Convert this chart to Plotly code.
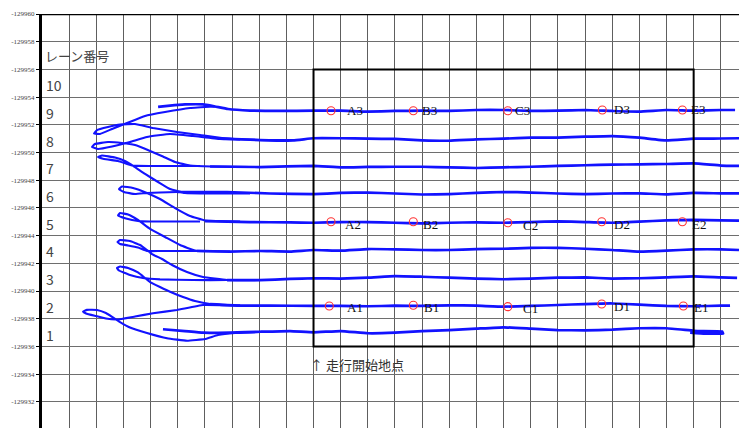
import plotly.graph_objects as go

# ---- axes -------------------------------------------------------------
y_ticks = [-129960, -129958, -129956, -129954, -129952, -129950, -129948,
           -129946, -129944, -129942, -129940, -129938, -129936, -129934,
           -129932]
y_tick_text = ["-129960", "-129958", "-129956", "-129954", "-129952",
               "-129950", "-129948", "-129946", "-129944", "-129942",
               "-129940", "-129938", "-129936", "-129934", "-129932"]

# ---- lane numbers -----------------------------------------------------
lane_numbers = ["1", "2", "3", "4", "5", "6", "7", "8", "9", "10"]
lane_centers = [-129937, -129939, -129941, -129943, -129945, -129947,
                -129949, -129951, -129953, -129955]

# ---- measured vehicle tracks: straight runs along each lane ------------
lane9_x = [8.55, 9.43, 10.53, 11.86, 12.74, 13.70, 15.32, 17.53, 20, 22, 24, 26, 28, 30,
           32, 34, 36, 38, 40, 42, 44, 46, 48, 50, 51.05]
lane9_y = [-129953.29, -129953.39, -129953.47, -129953.47, -129953.32, -129953.14,
           -129953.03, -129953.00, -129953.02, -129953.02, -129952.95, -129953.00,
           -129953.02, -129953.00, -129953.07, -129953.07, -129953.00, -129953.02,
           -129953.07, -129953.00, -129952.95, -129953.07, -129953.02, -129953.07,
           -129953.07]

lane8_x = [13.11, 16.06, 18.49, 20, 22, 24, 26, 28, 30, 32, 34, 36, 38, 40, 42, 44, 46,
           48, 50, 51.34]
lane8_y = [-129951.01, -129950.90, -129950.87, -129951.03, -129951.03, -129951.00,
           -129950.98, -129950.88, -129950.85, -129950.95, -129951.00, -129951.07,
           -129951.07, -129951.14, -129951.19, -129951.07, -129950.87, -129951.00,
           -129951.01, -129951.03]

lane7_x = [12.38, 16.06, 20, 22, 24, 26, 28, 30, 32, 34, 36, 38, 40, 42, 44, 46, 48, 50,
           51.34]
lane7_y = [-129948.99, -129948.95, -129949.03, -129948.93, -129948.96, -129948.97,
           -129948.97, -129948.93, -129948.88, -129948.93, -129948.97, -129949.03,
           -129949.08, -129949.12, -129949.15, -129949.17, -129949.21, -129949.06,
           -129949.03]

lane6_x = [9.94, 13.63, 16.80, 20, 22, 24, 26, 28, 30, 32, 34, 36, 38, 40, 42, 44, 46,
           48, 50, 51.34]
lane6_y = [-129947.15, -129947.15, -129947.04, -129947.00, -129947.08, -129947.11,
           -129947.04, -129946.97, -129947.00, -129947.08, -129947.15, -129947.11,
           -129947.04, -129947.00, -129947.04, -129947.05, -129946.98, -129947.08,
           -129947.05, -129947.05]

lane5_x = [12.01, 15.32, 18.27, 20, 22, 24, 26, 28, 30, 32, 34, 36, 38, 40, 42, 44, 46,
           48, 50, 51.34]
lane5_y = [-129945.05, -129944.98, -129944.95, -129944.93, -129944.98, -129944.98,
           -129944.93, -129944.89, -129944.93, -129944.96, -129944.93, -129944.98,
           -129945.03, -129944.98, -129944.93, -129945.01, -129945.10, -129945.14,
           -129945.10, -129945.08]

lane4_x = [11.42, 13.85, 16.06, 18.27, 20, 22, 24, 26, 28, 30, 32, 34, 36, 38, 40, 42,
           44, 46, 48, 50, 51.34]
lane4_y = [-129942.89, -129942.85, -129942.89, -129942.85, -129942.96, -129942.91,
           -129943.03, -129943.01, -129942.96, -129942.96, -129943.03, -129943.05,
           -129943.12, -129943.12, -129943.05, -129942.96, -129942.84, -129942.91,
           -129943.01, -129943.01, -129942.96]

lane3_x = [13.63, 16.06, 18.27, 20, 22, 24, 26, 28, 30, 32, 34, 36, 38, 40, 42, 44, 46,
           48, 50, 51.20]
lane3_y = [-129940.79, -129940.79, -129940.87, -129940.92, -129940.90, -129940.96,
           -129941.08, -129941.03, -129940.96, -129940.90, -129940.85, -129940.90,
           -129940.96, -129940.98, -129940.90, -129940.92, -129940.98, -129941.05,
           -129940.98, -129940.95]

lane2_x = [12.38, 14.59, 16.80, 20, 22, 24, 26, 28, 30, 32, 34, 36, 38, 40, 42, 44, 46,
           48, 50, 50.68]
lane2_y = [-129939.06, -129938.95, -129938.95, -129938.92, -129938.92, -129938.90,
           -129938.94, -129938.92, -129938.97, -129938.94, -129938.87, -129938.92,
           -129938.99, -129939.06, -129939.10, -129939.02, -129938.92, -129938.90,
           -129938.94, -129938.95]

lane1_x = [8.91, 10.53, 11.86, 13.85, 16.06, 18.27, 20, 22, 24, 26, 28, 30, 32, 34, 36,
           38, 40, 42, 44, 46, 48, 48.47, 50.09, 50.17, 48.84, 47.74]
lane1_y = [-129937.24, -129937.11, -129936.99, -129937.00, -129937.06, -129937.11,
           -129937.02, -129937.11, -129936.95, -129936.99, -129937.11, -129937.18,
           -129937.28, -129937.38, -129937.28, -129937.18, -129937.16, -129937.21,
           -129937.31, -129937.31, -129937.13, -129937.11, -129937.08, -129936.93,
           -129936.93, -129937.00]

# ---- turning loops at the start of the runs ---------------------------
loop1_x = [12.74, 10.90, 9.06, 7.59, 6.26, 5.16, 4.27, 3.83, 4.05, 4.86, 5.75, 6.85,
           8.18, 9.94, 11.64, 13.26, 16.06, 19.01]
loop1_y = [-129953.32, -129953.21, -129952.92, -129952.64, -129952.13, -129951.70,
           -129951.34, -129951.37, -129951.62, -129951.84, -129952.02, -129952.06,
           -129951.77, -129951.48, -129951.26, -129951.05, -129950.90, -129950.90]

loop2_x = [14.59, 13.11, 11.12, 9.43, 7.73, 6.48, 5.16, 4.13, 3.68, 3.90, 4.86, 5.89,
           6.85, 7.96, 8.91, 9.80, 10.90, 12.52, 15.32]
loop2_y = [-129950.94, -129950.97, -129951.19, -129951.34, -129951.12, -129950.76,
           -129950.43, -129950.25, -129950.40, -129950.61, -129950.76, -129950.69,
           -129950.54, -129950.11, -129949.71, -129949.31, -129949.06, -129948.99,
           -129948.95]

loop3_x = [11.64, 9.94, 7.96, 6.63, 5.60, 4.57, 4.13, 4.42, 5.38, 6.11, 6.85, 7.59,
           8.55, 9.43, 10.53, 12.38, 15.32]
loop3_y = [-129949.03, -129949.03, -129949.03, -129949.06, -129949.39, -129949.53,
           -129949.68, -129949.78, -129949.64, -129949.39, -129948.95, -129948.45,
           -129947.87, -129947.36, -129947.08, -129947.04, -129947.04]

loop4_x = [11.64, 9.94, 8.69, 7.73, 6.85, 6.04, 5.67, 5.89, 6.70, 7.73, 8.69, 9.80,
           10.90, 12.01, 14.59]
loop4_y = [-129947.15, -129947.15, -129947.11, -129947.08, -129947.00, -129947.15,
           -129947.36, -129947.55, -129947.44, -129947.08, -129946.64, -129945.99,
           -129945.42, -129945.09, -129945.02]

loop5_x = [11.64, 9.43, 7.96, 7.07, 6.19, 5.60, 5.75, 6.34, 7.07, 7.96, 9.06, 10.17,
           11.27, 12.74]
loop5_y = [-129945.02, -129945.02, -129945.02, -129945.05, -129945.23, -129945.45,
           -129945.63, -129945.52, -129945.13, -129944.48, -129943.90, -129943.32,
           -129942.92, -129942.89]

loop6_x = [13.85, 11.42, 9.80, 8.69, 7.73, 7.07, 6.34, 5.75, 5.56, 5.75, 6.48, 7.22,
           7.73, 8.10, 8.84, 9.58, 10.68, 11.86, 13.63, 16.06]
loop6_y = [-129942.85, -129942.89, -129942.89, -129942.89, -129942.89, -129943.14,
           -129943.29, -129943.39, -129943.54, -129943.68, -129943.61, -129943.32,
           -129942.96, -129942.67, -129942.31, -129941.88, -129941.37, -129941.01,
           -129940.79, -129940.79]

loop7_x = [16.06, 13.63, 11.12, 8.69, 7.44, 6.48, 5.67, 5.52, 5.75, 6.34, 7.07, 7.59,
           7.96, 8.69, 9.43, 10.39, 11.27, 12.38, 14.59]
loop7_y = [-129940.79, -129940.79, -129940.79, -129940.84, -129940.94, -129941.16,
           -129941.48, -129941.66, -129941.77, -129941.66, -129941.34, -129940.94,
           -129940.65, -129940.29, -129939.95, -129939.57, -129939.28, -129939.06,
           -129938.95]

loop8_x = [14.59, 11.86, 9.94, 8.18, 6.85, 5.52, 4.71, 3.98, 3.24, 3.02, 3.31, 4.05,
           4.71, 5.23, 5.75, 6.48, 7.73, 9.21, 10.68, 12.01, 12.96, 14.22, 16.06]
loop8_y = [-129938.95, -129938.99, -129938.63, -129938.39, -129938.16, -129937.94,
           -129938.01, -129938.19, -129938.38, -129938.52, -129938.64, -129938.63,
           -129938.41, -129938.09, -129937.76, -129937.37, -129936.97, -129936.59,
           -129936.41, -129936.53, -129936.82, -129936.97, -129937.04]

# ---- survey points ----------------------------------------------------
point_names = ["A3", "B3", "C3", "D3", "E3",
               "A2", "B2", "C2", "D2", "E2",
               "A1", "B1", "C1", "D1", "E1"]
point_x = [21.29, 27.35, 34.31, 41.27, 47.17,
           21.29, 27.35, 34.31, 41.23, 47.17,
           21.16, 27.35, 34.31, 41.23, 47.24]
point_y = [-129953.02, -129953.02, -129953.02, -129953.07, -129953.07,
           -129945.00, -129945.00, -129944.93, -129945.00, -129945.00,
           -129938.92, -129938.97, -129938.87, -129939.06, -129938.92]

# label offsets (px) of the point names
label_dx = [14, 7, 5, 10, 7,
            12, 8, 13, 10, 8,
            16, 9, 13, 10, 9]
label_dy = [0, 0, 0, 0, 0,
            -3, -3, -3, -3, -3,
            -2, -2, -2, -2, -2]

# measurement area
area_x = [20, 48]
area_y = [-129956, -129936]

TRACK = "rgb(18,18,255)"

lane_tracks = [
    (lane9_x, lane9_y), (lane8_x, lane8_y), (lane7_x, lane7_y),
    (lane6_x, lane6_y), (lane5_x, lane5_y), (lane4_x, lane4_y),
    (lane3_x, lane3_y), (lane2_x, lane2_y), (lane1_x, lane1_y),
]
loop_tracks = [
    (loop1_x, loop1_y), (loop2_x, loop2_y), (loop3_x, loop3_y),
    (loop4_x, loop4_y), (loop5_x, loop5_y), (loop6_x, loop6_y),
    (loop7_x, loop7_y), (loop8_x, loop8_y),
]

fig = go.Figure()

for tx, ty in loop_tracks:
    fig.add_trace(go.Scatter(
        x=tx, y=ty, mode="lines",
        line=dict(color=TRACK, width=2.1, shape="spline", smoothing=0.3),
        hoverinfo="skip",
    ))

for tx, ty in lane_tracks:
    fig.add_trace(go.Scatter(
        x=tx, y=ty, mode="lines",
        line=dict(color=TRACK, width=2.7, shape="spline", smoothing=0.3),
        hoverinfo="skip",
    ))

fig.add_trace(go.Scatter(
    x=point_x, y=point_y, mode="markers",
    marker=dict(symbol="circle-open", size=8, color="rgb(255,50,50)",
                line=dict(width=1.1, color="rgb(255,50,50)")),
    hoverinfo="skip",
))

annotations = []
for name, px_, py_, dx, dy in zip(point_names, point_x, point_y, label_dx, label_dy):
    annotations.append(dict(
        x=px_, y=py_, text=name, showarrow=False,
        xanchor="left", yanchor="middle", xshift=dx, yshift=dy,
        font=dict(family="Liberation Serif", size=13, color="#111"),
    ))

for num, yc in zip(lane_numbers, lane_centers):
    annotations.append(dict(
        x=0, y=yc, text=num, showarrow=False,
        xanchor="left", yanchor="middle", xshift=2, yshift=-2,
        font=dict(family="Noto Sans CJK JP", size=14, color="#444"),
    ))

annotations.append(dict(
    x=0, y=-129957, text="レーン番号", showarrow=False,
    xanchor="left", yanchor="middle", xshift=1,
    font=dict(family="Noto Sans CJK JP", size=13, color="#444"),
))
annotations.append(dict(
    x=area_x[0], y=-129934.66, text="↑ 走行開始地点", showarrow=False,
    xanchor="left", yanchor="middle", xshift=-6,
    font=dict(family="Noto Sans CJK JP", size=13, color="#333"),
))

shapes = [
    dict(type="rect", xref="x", yref="y",
         x0=area_x[0], x1=area_x[1], y0=area_y[0], y1=area_y[1],
         line=dict(color="black", width=2), layer="above"),
    dict(type="line", xref="paper", yref="y", x0=0, x1=1,
         y0=y_ticks[0], y1=y_ticks[0],
         line=dict(color="black", width=2.5), layer="above"),
]

fig.update_layout(
    width=739, height=428,
    margin=dict(l=42, r=0, t=14, b=0),
    paper_bgcolor="white", plot_bgcolor="white",
    showlegend=False,
    annotations=annotations,
    shapes=shapes,
    xaxis=dict(range=[0, 51.34], dtick=2, tick0=0, showgrid=True,
               gridcolor="#5e5e5e", gridwidth=1, showticklabels=False,
               zeroline=False, showline=False, ticks=""),
    yaxis=dict(range=[-129930.11, -129960], tickvals=y_ticks, ticktext=y_tick_text,
               showgrid=True, gridcolor="#6e6e6e", gridwidth=1,
               zeroline=False, showline=True, linecolor="black", linewidth=3,
               ticks="outside", ticklen=3, tickcolor="black",
               tickfont=dict(family="Liberation Serif", size=7, color="#444")),
)

fig.write_html("out.html")
